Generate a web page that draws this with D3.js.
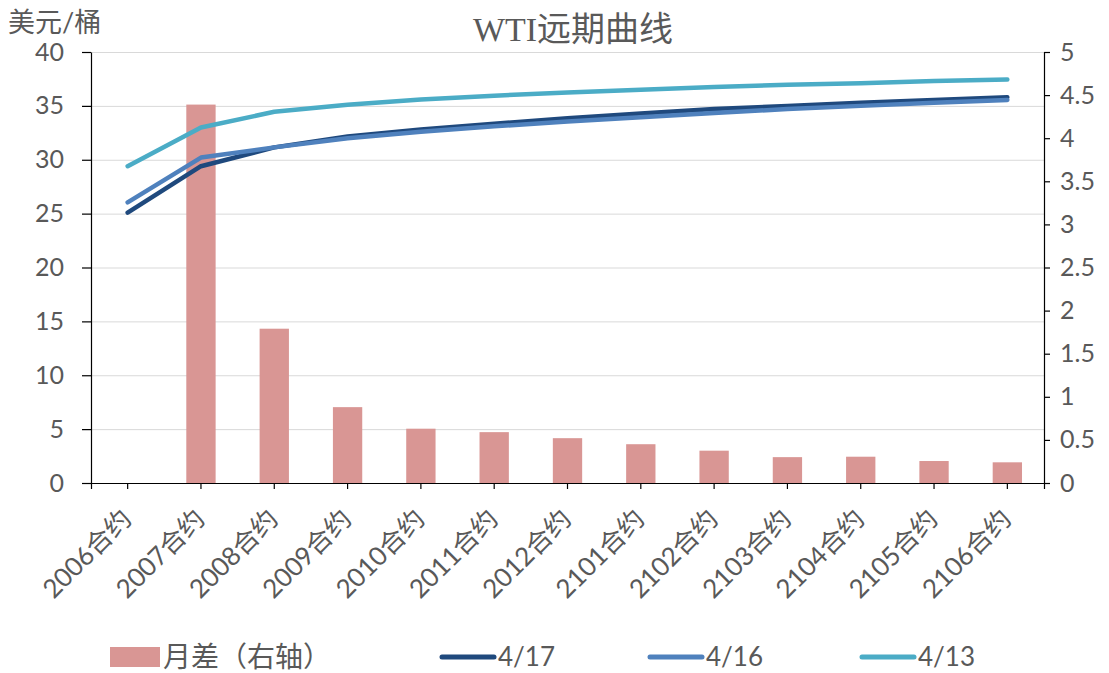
<!DOCTYPE html>
<html>
<head>
<meta charset="utf-8">
<script src="https://cdn.jsdelivr.net/npm/d3@7"></script>
<style>
  body { margin: 0; background: #fff; }
  svg { display: block; }
</style>
</head>
<body>
<script>
const contracts = ['2006合约', '2007合约', '2008合约', '2009合约', '2010合约', '2011合约', '2012合约',
  '2101合约', '2102合约', '2103合约', '2104合约', '2105合约', '2106合约']

// 月差 (right axis)
const spread = [0, 4.39, 1.79, 0.88, 0.63, 0.59, 0.52, 0.45, 0.375, 0.30, 0.305, 0.255, 0.24]

const curve_0417 = [25.1, 29.4, 31.15, 32.15, 32.8, 33.35, 33.85, 34.3, 34.7, 35.0, 35.3, 35.55, 35.8]
const curve_0416 = [26.05, 30.2, 31.15, 32.0, 32.6, 33.1, 33.55, 33.95, 34.35, 34.7, 35.0, 35.3, 35.55]
const curve_0413 = [29.4, 33.0, 34.45, 35.1, 35.6, 35.95, 36.25, 36.5, 36.75, 36.95, 37.1, 37.3, 37.45]

const left_ticks = [0, 5, 10, 15, 20, 25, 30, 35, 40]
const right_ticks = [0, 0.5, 1, 1.5, 2, 2.5, 3, 3.5, 4, 4.5, 5]

const series = [
  {name: '4/17', values: curve_0417, color: '#1f497d'},
  {name: '4/16', values: curve_0416, color: '#4f81bd'},
  {name: '4/13', values: curve_0413, color: '#4bacc6'},
]
const bar_name = '月差（右轴）'
const bar_color = '#d99694'

const width = 1109
const height = 673
const margin = {top: 52, right: 65, bottom: 190, left: 91}
const font = 'Lato, "Noto Sans CJK SC", sans-serif'
const grey = '#595959'

const svg = d3.select('body').append('svg')
  .attr('width', width)
  .attr('height', height)

const x = d3.scaleBand()
  .domain(contracts)
  .range([margin.left, width - margin.right])
  .paddingInner(0.6)
  .paddingOuter(0.3)
const cx = d => x(d) + x.bandwidth() / 2

const yL = d3.scaleLinear().domain([0, 40]).range([height - margin.bottom, margin.top])
const yR = d3.scaleLinear().domain([0, 5]).range([height - margin.bottom, margin.top])

// grid
svg.append('g')
  .selectAll('line')
  .data(left_ticks.slice(1))
  .join('line')
    .attr('x1', margin.left)
    .attr('x2', width - margin.right)
    .attr('y1', d => yL(d) + 0.5)
    .attr('y2', d => yL(d) + 0.5)
    .attr('stroke', '#d9d9d9')
    .attr('stroke-width', 1)

// bars
svg.append('g')
  .selectAll('rect')
  .data(contracts.map((c, i) => ({c, v: spread[i]})).filter(d => d.v > 0))
  .join('rect')
    .attr('x', d => x(d.c))
    .attr('y', d => yR(d.v))
    .attr('width', x.bandwidth())
    .attr('height', d => yR(0) - yR(d.v))
    .attr('fill', bar_color)

// lines
const line = d3.line()
  .x((d, i) => cx(contracts[i]))
  .y(d => yL(d))

svg.append('g')
  .selectAll('path')
  .data(series)
  .join('path')
    .attr('d', s => line(s.values))
    .attr('fill', 'none')
    .attr('stroke', s => s.color)
    .attr('stroke-width', 4.5)
    .attr('stroke-linejoin', 'round')
    .attr('stroke-linecap', 'round')

function style_axis(g) {
  g.selectAll('path, line').attr('stroke', '#000').attr('stroke-width', 1.2)
  g.selectAll('text')
    .attr('fill', grey)
    .attr('font-size', 25)
    .attr('font-family', font)
}

// left axis
svg.append('g')
  .attr('transform', `translate(${margin.left}, 0)`)
  .call(d3.axisLeft(yL).tickValues(left_ticks).tickSize(9).tickSizeOuter(0).tickPadding(18))
  .call(style_axis)

// right axis
svg.append('g')
  .attr('transform', `translate(${width - margin.right}, 0)`)
  .call(d3.axisRight(yR).tickValues(right_ticks).tickFormat(d => String(d))
    .tickSize(6).tickSizeOuter(0).tickPadding(10))
  .call(style_axis)

// bottom axis
const xa = svg.append('g')
  .attr('transform', `translate(0, ${height - margin.bottom})`)
  .call(d3.axisBottom(x).tickSize(6).tickSizeOuter(6))
  .call(style_axis)

xa.selectAll('text')
  .attr('font-size', 26)
  .attr('text-anchor', 'end')
  .attr('y', 0)
  .attr('dy', '0.35em')
  .attr('transform', 'translate(-1, 31) rotate(-45)')

// title
svg.append('text')
  .attr('x', 573)
  .attr('y', 41)
  .attr('text-anchor', 'middle')
  .attr('font-size', 34)
  .attr('font-family', '"Liberation Serif", "Noto Sans CJK SC", serif')
  .attr('fill', grey)
  .text('WTI远期曲线')

// unit label
svg.append('text')
  .attr('x', 8)
  .attr('y', 32)
  .attr('font-size', 27)
  .attr('font-family', font)
  .attr('fill', grey)
  .text('美元/桶')

// legend
const ly = 657
const legend = svg.append('g')
legend.append('rect')
  .attr('x', 110).attr('y', ly - 10)
  .attr('width', 50).attr('height', 20)
  .attr('fill', bar_color)
legend.append('text')
  .attr('x', 163).attr('y', ly).attr('dy', '0.35em')
  .attr('font-size', 28).attr('font-family', font).attr('fill', grey)
  .text(bar_name)

const lx = [440, 648, 860]
const items = legend.selectAll('g.item')
  .data(series)
  .join('g')
    .attr('class', 'item')
    .attr('transform', (d, i) => `translate(${lx[i]}, ${ly})`)
items.append('line')
  .attr('x1', 2).attr('x2', 54)
  .attr('stroke', d => d.color)
  .attr('stroke-width', 5)
  .attr('stroke-linecap', 'round')
items.append('text')
  .attr('x', 58).attr('dy', '0.35em')
  .attr('font-size', 26).attr('font-family', font).attr('fill', grey)
  .text(d => d.name)
</script>
</body>
</html>
